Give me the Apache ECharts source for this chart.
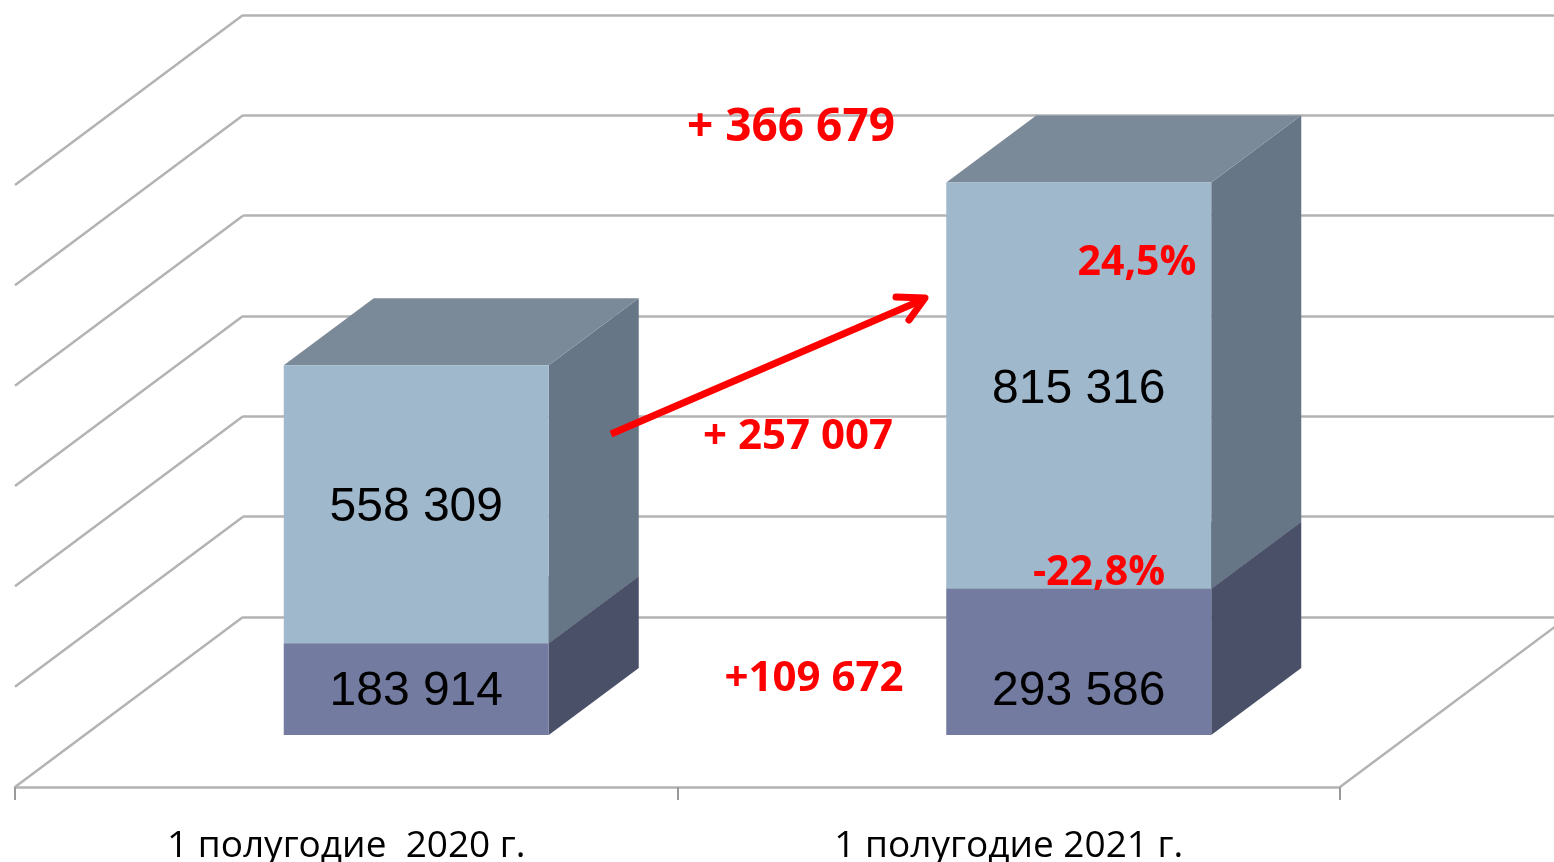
<!DOCTYPE html>
<html>
<head>
<meta charset="UTF-8">
<title>1 полугодие 2020 / 2021</title>
<style>
    html, body { margin: 0; padding: 0; background: #fff; }
    #chart { width: 1554px; height: 862px; }
</style>
</head>
<body>
<div id="chart"></div>
<script src="https://cdn.jsdelivr.net/npm/echarts@6/dist/echarts.min.js"></script>
<script>
    // данные
    var categories = ['1 полугодие  2020 г.', '1 полугодие 2021 г.'];
    var lowerValues = [183914, 293586];
    var upperValues = [558309, 815316];
    var wallTicks = [0, 200000, 400000, 600000, 800000, 1000000, 1200000];
    var notes = ['+ 366 679', '24,5%', '+ 257 007', '-22,8%', '+109 672'];

    var DEPTH_X = 90, DEPTH_Y = -67;     // глубина столбика
    var SHIFT_X = 70, SHIFT_Y = -52;     // столбик стоит внутри "пола"
    var WALL_X = -228, WALL_Y = 170;     // задняя стенка -> передний край

    function fmt(v) {
        return String(v).replace(/\B(?=(\d{3})+(?!\d))/g, ' ');
    }

    function makeBar(colors, isLower) {
        return function (params, api) {
            var i = api.value(0);
            var pLo = api.coord([i, api.value(1)]);
            var pHi = api.coord([i, api.value(2)]);
            var w = api.size([1, 0])[0] * 0.4;
            var x0 = pLo[0] + SHIFT_X - w / 2, x1 = x0 + w;
            var yb = pLo[1] + SHIFT_Y, yt = pHi[1] + SHIFT_Y;
            var ty = isLower ? yb - 43 : (yb + yt) / 2 + 4;
            return {
                type: 'group',
                children: [
                    { type: 'polygon', shape: { points: [[x1, yb], [x1 + DEPTH_X, yb + DEPTH_Y], [x1 + DEPTH_X, yt + DEPTH_Y], [x1, yt]] },
                      style: { fill: colors[1] } },
                    { type: 'polygon', shape: { points: [[x0, yt], [x1, yt], [x1 + DEPTH_X, yt + DEPTH_Y], [x0 + DEPTH_X, yt + DEPTH_Y]] },
                      style: { fill: colors[2] } },
                    { type: 'rect', shape: { x: x0, y: yt, width: w, height: yb - yt },
                      style: { fill: colors[0] } },
                    { type: 'text', style: { text: fmt(api.value(3)), x: (x0 + x1) / 2, y: ty,
                      align: 'center', verticalAlign: 'middle', fill: '#000',
                      font: '48px "Liberation Sans", Arial, sans-serif' } }
                ]
            };
        };
    }

    var lowerData = lowerValues.map(function (v, i) { return [i, 0, v, v]; });
    var upperData = upperValues.map(function (v, i) { return [i, lowerValues[i], lowerValues[i] + v, v]; });

    var chart = echarts.init(document.getElementById('chart'));

    var gridColor = '#b3b3b3';
    var bigFont = 'bold 46px "Open Sans", sans-serif';
    var noteFont = 'bold 42px "Open Sans", sans-serif';
    var pctFont = 'bold 41px "Open Sans", sans-serif';

    chart.setOption({
        animation: false,
        grid: [
            { left: 243, top: 15, width: 1325, height: 602, outerBoundsMode: 'none' },   // задняя стенка
            { left: 15, top: 189, width: 1325, height: 598, outerBoundsMode: 'none' }    // передняя плоскость
        ],
        xAxis: [
            { gridIndex: 0, type: 'value', min: 0, max: 1, show: false },
            {
                gridIndex: 1, type: 'category', data: categories,
                axisLine: { lineStyle: { color: gridColor, width: 2.5 } },
                axisTick: { show: true, length: 13, lineStyle: { color: '#999', width: 2 } },
                axisLabel: { color: '#000', fontSize: 37, fontFamily: '"Open Sans", sans-serif', margin: 41 }
            }
        ],
        yAxis: [
            {
                gridIndex: 0, type: 'value', min: 0, max: 1200000, interval: 200000,
                axisLine: { show: false }, axisTick: { show: false }, axisLabel: { show: false },
                splitLine: { show: true, lineStyle: { color: gridColor, width: 2.5 } }
            },
            { gridIndex: 1, type: 'value', min: 0, max: 1200000, show: false, splitLine: { show: false } }
        ],
        series: [
            {
                // боковая стенка и правый край пола
                type: 'custom', xAxisIndex: 0, yAxisIndex: 0, silent: true, z: 1,
                data: wallTicks.map(function (v) { return [0, v]; }).concat([[1, 0]]),
                renderItem: function (params, api) {
                    var p = api.coord([api.value(0), api.value(1)]);
                    return {
                        type: 'line',
                        shape: { x1: p[0], y1: p[1], x2: p[0] + WALL_X, y2: p[1] + WALL_Y },
                        style: { stroke: gridColor, lineWidth: 2.5 }
                    };
                }
            },
            {
                type: 'custom', xAxisIndex: 1, yAxisIndex: 1, z: 3,
                encode: { x: 0, y: [1, 2] },
                data: lowerData,
                renderItem: makeBar(['#737ba0', '#4a5068', '#4a5068'], true)
            },
            {
                type: 'custom', xAxisIndex: 1, yAxisIndex: 1, z: 4,
                encode: { x: 0, y: [1, 2] },
                data: upperData,
                renderItem: makeBar(['#a0b8cc', '#667686', '#7b8a99'], false)
            }
        ],
        graphic: [
            { type: 'line', z: 10, shape: { x1: 611, y1: 434, x2: 922, y2: 300 },
              style: { stroke: '#ff0000', lineWidth: 7 } },
            { type: 'polyline', z: 10, shape: { points: [[896, 297], [925, 298], [909, 320]] },
              style: { stroke: '#ff0000', lineWidth: 7, lineCap: 'round', lineJoin: 'round', fill: null } },
            { type: 'text', z: 10, style: { text: notes[0], x: 791, y: 128, align: 'center', verticalAlign: 'middle', fill: '#ff0000', font: bigFont } },
            { type: 'text', z: 10, style: { text: notes[1], x: 1137, y: 263, align: 'center', verticalAlign: 'middle', fill: '#ff0000', font: pctFont } },
            { type: 'text', z: 10, style: { text: notes[2], x: 798, y: 437, align: 'center', verticalAlign: 'middle', fill: '#ff0000', font: noteFont } },
            { type: 'text', z: 10, style: { text: notes[3], x: 1099, y: 573, align: 'center', verticalAlign: 'middle', fill: '#ff0000', font: pctFont } },
            { type: 'text', z: 10, style: { text: notes[4], x: 814, y: 679, align: 'center', verticalAlign: 'middle', fill: '#ff0000', font: noteFont } }
        ]
    });
</script>
</body>
</html>
